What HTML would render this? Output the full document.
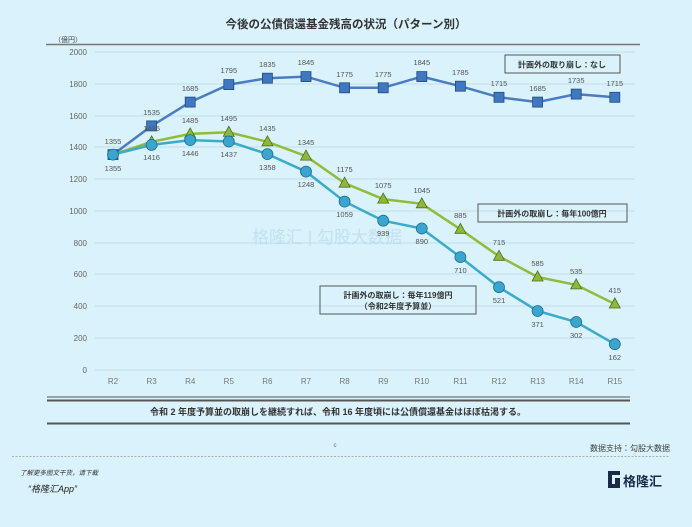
<!DOCTYPE html>
<html><head><meta charset="utf-8"><style>
body{margin:0;width:692px;height:522px;background:#d9f2fc;overflow:hidden;font-family:"Liberation Sans","Noto Sans CJK JP",sans-serif}
</style></head><body>
<svg width="692" height="522" xmlns="http://www.w3.org/2000/svg" font-family="Liberation Sans, Noto Sans CJK JP, sans-serif">
<rect width="692" height="522" fill="#d9f2fc"/>
<text x="346" y="28" font-size="11.5" font-weight="bold" text-anchor="middle" fill="#333">今後の公債償還基金残高の状況（パターン別）</text>
<text x="54" y="42" font-size="7" fill="#444">（億円）</text>
<line x1="46" y1="44.5" x2="640" y2="44.5" stroke="#777" stroke-width="1.5"/>
<g stroke="#c4dfea" stroke-width="1">
<line x1="95" y1="52" x2="635" y2="52"/><line x1="95" y1="84" x2="635" y2="84"/><line x1="95" y1="116" x2="635" y2="116"/><line x1="95" y1="147" x2="635" y2="147"/><line x1="95" y1="179" x2="635" y2="179"/><line x1="95" y1="211" x2="635" y2="211"/><line x1="95" y1="243" x2="635" y2="243"/><line x1="95" y1="274" x2="635" y2="274"/><line x1="95" y1="306" x2="635" y2="306"/><line x1="95" y1="338" x2="635" y2="338"/><line x1="95" y1="370" x2="635" y2="370"/>
</g>
<g font-size="8" fill="#666" text-anchor="end">
<text x="87" y="55">2000</text><text x="87" y="87">1800</text><text x="87" y="119">1600</text><text x="87" y="150">1400</text><text x="87" y="182">1200</text><text x="87" y="214">1000</text><text x="87" y="246">800</text><text x="87" y="277">600</text><text x="87" y="309">400</text><text x="87" y="341">200</text><text x="87" y="373">0</text>
</g>
<g font-size="8" fill="#777" text-anchor="middle">
<text x="113" y="384">R2</text><text x="151.6" y="384">R3</text><text x="190.2" y="384">R4</text><text x="228.8" y="384">R5</text><text x="267.4" y="384">R6</text><text x="306" y="384">R7</text><text x="344.6" y="384">R8</text><text x="383.2" y="384">R9</text><text x="421.8" y="384">R10</text><text x="460.4" y="384">R11</text><text x="499" y="384">R12</text><text x="537.6" y="384">R13</text><text x="576.2" y="384">R14</text><text x="614.8" y="384">R15</text>
</g>
<text x="252" y="243" font-size="17" fill="#a8cde6" opacity="0.45">格隆汇 | 勾股大数据</text>
<polyline fill="none" stroke="#4a7cc0" stroke-width="2.5" points="113,154.6 151.6,125.9 190.2,102.1 228.8,84.6 267.4,78.2 306,76.6 344.6,87.8 383.2,87.8 421.8,76.6 460.4,86.2 499,97.3 537.6,102.1 576.2,94.1 614.8,97.3"/>
<polyline fill="none" stroke="#8fbc3c" stroke-width="2.5" points="113,154.6 151.6,141.8 190.2,133.9 228.8,132.3 267.4,141.8 306,156.1 344.6,183.2 383.2,199.1 421.8,203.8 460.4,229.3 499,256.3 537.6,277 576.2,284.9 614.8,304"/>
<polyline fill="none" stroke="#3aabc9" stroke-width="2.5" points="113,154.6 151.6,144.9 190.2,140.1 228.8,141.5 267.4,154.1 306,171.6 344.6,201.6 383.2,220.7 421.8,228.5 460.4,257.1 499,287.2 537.6,311 576.2,322 614.8,344.2"/>
<g fill="#3f78c0" stroke="#244a80" stroke-width="0.8">
<rect x="108" y="149.6" width="10" height="10"/><rect x="146.6" y="120.9" width="10" height="10"/><rect x="185.2" y="97.1" width="10" height="10"/><rect x="223.8" y="79.6" width="10" height="10"/><rect x="262.4" y="73.2" width="10" height="10"/><rect x="301" y="71.6" width="10" height="10"/><rect x="339.6" y="82.8" width="10" height="10"/><rect x="378.2" y="82.8" width="10" height="10"/><rect x="416.8" y="71.6" width="10" height="10"/><rect x="455.4" y="81.2" width="10" height="10"/><rect x="494" y="92.3" width="10" height="10"/><rect x="532.6" y="97.1" width="10" height="10"/><rect x="571.2" y="89.1" width="10" height="10"/><rect x="609.8" y="92.3" width="10" height="10"/>
</g>
<g fill="#8fb83a" stroke="#4e6e1e" stroke-width="0.8">
<path d="M151.6,135.8 l5.5,10 h-11z"/><path d="M190.2,127.9 l5.5,10 h-11z"/><path d="M228.8,126.3 l5.5,10 h-11z"/><path d="M267.4,135.8 l5.5,10 h-11z"/><path d="M306,150.1 l5.5,10 h-11z"/><path d="M344.6,177.2 l5.5,10 h-11z"/><path d="M383.2,193.1 l5.5,10 h-11z"/><path d="M421.8,197.8 l5.5,10 h-11z"/><path d="M460.4,223.3 l5.5,10 h-11z"/><path d="M499,250.3 l5.5,10 h-11z"/><path d="M537.6,271 l5.5,10 h-11z"/><path d="M576.2,278.9 l5.5,10 h-11z"/><path d="M614.8,298 l5.5,10 h-11z"/>
</g>
<g fill="#3aa6cf" stroke="#246f8a" stroke-width="0.8">
<circle cx="113" cy="154.6" r="5.5"/><circle cx="151.6" cy="144.9" r="5.5"/><circle cx="190.2" cy="140.1" r="5.5"/><circle cx="228.8" cy="141.5" r="5.5"/><circle cx="267.4" cy="154.1" r="5.5"/><circle cx="306" cy="171.6" r="5.5"/><circle cx="344.6" cy="201.6" r="5.5"/><circle cx="383.2" cy="220.7" r="5.5"/><circle cx="421.8" cy="228.5" r="5.5"/><circle cx="460.4" cy="257.1" r="5.5"/><circle cx="499" cy="287.2" r="5.5"/><circle cx="537.6" cy="311" r="5.5"/><circle cx="576.2" cy="322" r="5.5"/><circle cx="614.8" cy="344.2" r="5.5"/>
</g>
<g font-size="7.5" fill="#555" text-anchor="middle">
<text x="113" y="144">1355</text><text x="151.6" y="115">1535</text><text x="190.2" y="91">1685</text><text x="228.8" y="73">1795</text><text x="267.4" y="67">1835</text><text x="306" y="65">1845</text><text x="344.6" y="77">1775</text><text x="383.2" y="77">1775</text><text x="421.8" y="65">1845</text><text x="460.4" y="75">1785</text><text x="499" y="86">1715</text><text x="537.6" y="91">1685</text><text x="576.2" y="83">1735</text><text x="614.8" y="86">1715</text>
<text x="151.6" y="131">1435</text><text x="190.2" y="123">1485</text><text x="228.8" y="121">1495</text><text x="267.4" y="131">1435</text><text x="306" y="145">1345</text><text x="344.6" y="172">1175</text><text x="383.2" y="188">1075</text><text x="421.8" y="193">1045</text><text x="460.4" y="218">885</text><text x="499" y="245">715</text><text x="537.6" y="266">585</text><text x="576.2" y="274">535</text><text x="614.8" y="293">415</text>
<text x="113" y="171">1355</text><text x="151.6" y="160">1416</text><text x="190.2" y="156">1446</text><text x="228.8" y="157">1437</text><text x="267.4" y="170">1358</text><text x="306" y="187">1248</text><text x="344.6" y="217">1059</text><text x="383.2" y="236">939</text><text x="421.8" y="244">890</text><text x="460.4" y="273">710</text><text x="499" y="303">521</text><text x="537.6" y="327">371</text><text x="576.2" y="338">302</text><text x="614.8" y="360">162</text>
</g>
<rect x="505" y="55" width="115" height="18" fill="none" stroke="#555" stroke-width="1"/>
<text x="562" y="67.5" font-size="8" font-weight="bold" text-anchor="middle" fill="#333">計画外の取り崩し：なし</text>
<rect x="478" y="204" width="149" height="18" fill="none" stroke="#555" stroke-width="1"/>
<text x="552" y="216.5" font-size="8" font-weight="bold" text-anchor="middle" fill="#333">計画外の取崩し：毎年100億円</text>
<rect x="320" y="286" width="156" height="28" fill="none" stroke="#555" stroke-width="1"/>
<text x="398" y="298" font-size="8" font-weight="bold" text-anchor="middle" fill="#333">計画外の取崩し：毎年119億円</text>
<text x="398" y="309" font-size="8" font-weight="bold" text-anchor="middle" fill="#333">（令和2年度予算並）</text>
<line x1="47" y1="397" x2="630" y2="397" stroke="#555" stroke-width="1"/>
<line x1="47" y1="400.5" x2="630" y2="400.5" stroke="#555" stroke-width="2"/>
<text x="338" y="415" font-size="9" font-weight="bold" text-anchor="middle" fill="#333">令和 2 年度予算並の取崩しを継続すれば、令和 16 年度頃には公債償還基金はほぼ枯渇する。</text>
<line x1="47" y1="423.5" x2="630" y2="423.5" stroke="#555" stroke-width="2"/>
<text x="335" y="447" font-size="6" fill="#666" text-anchor="middle">c</text>
<text x="670" y="451" font-size="8" fill="#444" text-anchor="end">数据支持：勾股大数据</text>
<line x1="12" y1="456.5" x2="670" y2="456.5" stroke="#999" stroke-width="0.8" stroke-dasharray="2,1.5"/>
<text x="20" y="475" font-size="6.5" font-style="italic" fill="#333">了解更多图文干货，请下载</text>
<text x="28" y="492" font-size="9" font-style="italic" fill="#222">“格隆汇App”</text>
<rect x="608" y="471" width="12" height="17" fill="#1a2b4a"/><rect x="612" y="475" width="8" height="9" fill="#d9f2fc"/><rect x="615" y="478" width="5" height="6" fill="#1a2b4a"/>
<text x="623" y="486" font-size="13" font-weight="bold" fill="#1a2b4a">格隆汇</text>
</svg>
</body></html>
